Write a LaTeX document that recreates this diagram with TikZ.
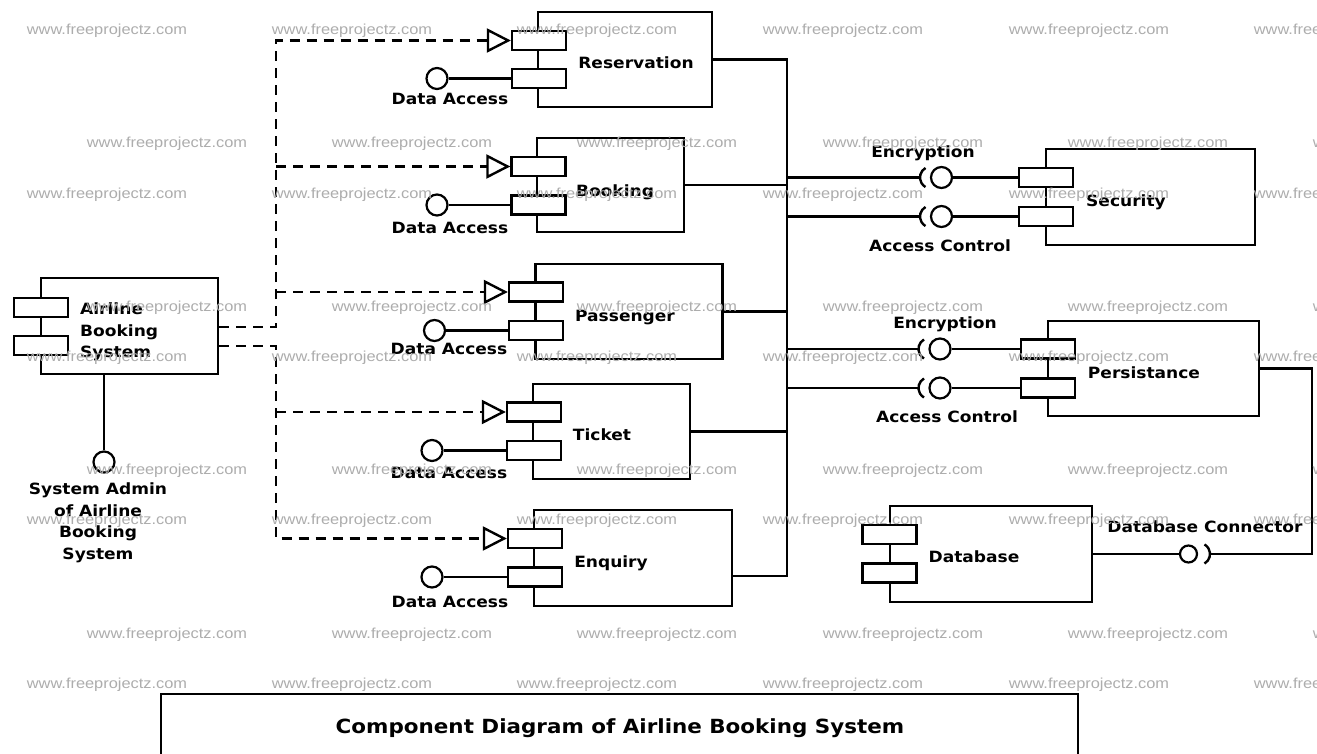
\documentclass[tikz,border=0pt]{standalone}
\usepackage{fontspec}
\newfontfamily\labfont[FakeStretch=1.1]{DejaVu Sans}
\newfontfamily\wmfont[FakeStretch=1.13]{Liberation Sans}
\usetikzlibrary{arrows.meta,calc}
\begin{document}
\begin{tikzpicture}[x=1pt,y=-1pt,
  ln/.style={line width=2.4pt},
  body/.style={draw, line width=2.4pt, inner sep=0pt},
  port/.style={draw, fill=white, line width=2.4pt, minimum width=54pt, minimum height=19pt, inner sep=0pt},
  ball/.style={circle, draw, fill=white, line width=2.2pt, minimum size=21pt, inner sep=0pt},
  lab/.style={font=\labfont\bfseries\fontsize{15.5}{21.5}\selectfont, inner sep=0pt},
  ttl/.style={font=\labfont\bfseries\fontsize{19.5}{22}\selectfont, inner sep=0pt},
  dep/.style={line width=2.4pt, dash pattern=on 10pt off 7pt, -{Triangle[open, length=24pt, width=24pt, line width=2.4pt]}},
  wm/.style={font=\wmfont\fontsize{14.5}{14.5}\selectfont, text=black!32, inner sep=0pt}]
\useasboundingbox (0,0) rectangle (1317,754);
\clip (0,0) rectangle (1317,754);
\fill[white] (0,0) rectangle (1317,754);

% ---------- components ----------
\node[body, minimum width=174pt, minimum height=95pt] (res) at (625,59.5) {};
\node[port] (resP1) at (539,40.5) {};
\node[port] (resP2) at (539,78.5) {};
\node[lab, anchor=base] (resL) at (636,68.5) {Reservation};

\node[body, minimum width=147pt, minimum height=94pt] (book) at (610.5,185) {};
\node[port] (bookP1) at (538.5,166.5) {};
\node[port] (bookP2) at (538.5,205) {};
\node[lab, anchor=base] (bookL) at (615,196.5) {Booking};

\node[body, minimum width=187pt, minimum height=95pt] (pas) at (629,311.5) {};
\node[port] (pasP1) at (536,292) {};
\node[port] (pasP2) at (536,330.5) {};
\node[lab, anchor=base] (pasL) at (625,321.5) {Passenger};

\node[body, minimum width=157pt, minimum height=95pt] (tik) at (611.5,431.5) {};
\node[port] (tikP1) at (534,412) {};
\node[port] (tikP2) at (534,450.5) {};
\node[lab, anchor=base] (tikL) at (602,440.5) {Ticket};

\node[body, minimum width=198pt, minimum height=96pt] (enq) at (633,558) {};
\node[port] (enqP1) at (535,538.5) {};
\node[port] (enqP2) at (535,577) {};
\node[lab, anchor=base] (enqL) at (611,567.5) {Enquiry};

\node[body, minimum width=209pt, minimum height=96pt] (sec) at (1150.5,197) {};
\node[port] (secP1) at (1046,177.5) {};
\node[port] (secP2) at (1046,216.5) {};
\node[lab, anchor=base] (secL) at (1126,207) {Security};

\node[body, minimum width=211pt, minimum height=95pt] (per) at (1153.5,368.5) {};
\node[port] (perP1) at (1048,349) {};
\node[port] (perP2) at (1048,388) {};
\node[lab, anchor=base] (perL) at (1144,378) {Persistance};

\node[body, minimum width=202pt, minimum height=96pt] (db) at (991,554) {};
\node[port] (dbP1) at (889.5,534.5) {};
\node[port] (dbP2) at (889.5,573) {};
\node[lab, anchor=base] (dbL) at (974,562.5) {Database};

\node[body, minimum width=177pt, minimum height=96pt] (air) at (129.5,326) {};
\node[port] (airP1) at (41,307.5) {};
\node[port] (airP2) at (41,345.5) {};
\node[lab, anchor=west, align=left] (airL) at (80,332) {Airline\\Booking\\System};

% ---------- admin interface ----------
\node[ball] (admB) at (104,462) {};
\draw[ln] (admB) -- (admB |- air.south);
\node[lab, align=center] (admL) at (98,523) {System Admin\\of Airline\\Booking\\System};

% ---------- data access lollipops ----------
\node[ball] (resB) at (437,78.5) {};
\draw[ln] (resB) -- (resP2);
\node[lab, anchor=base] (resDA) at (450,104.5) {Data Access};
\node[ball] (bookB) at (437,205) {};
\draw[ln] (bookB) -- (bookP2);
\node[lab, anchor=base] (bookDA) at (450,233.5) {Data Access};
\node[ball] (pasB) at (434.5,330.5) {};
\draw[ln] (pasB) -- (pasP2);
\node[lab, anchor=base] (pasDA) at (449,354.5) {Data Access};
\node[ball] (tikB) at (432,450.5) {};
\draw[ln] (tikB) -- (tikP2);
\node[lab, anchor=base] (tikDA) at (449,478.5) {Data Access};
\node[ball] (enqB) at (432,577) {};
\draw[ln] (enqB) -- (enqP2);
\node[lab, anchor=base] (enqDA) at (450,607.5) {Data Access};

% ---------- dependencies ----------
\draw[dep] ($(air.east)+(0,1)$) -- ++(57,0) coordinate (jU) -- (jU |- resP1.west) -- (resP1.west);
\draw[dep] (jU |- bookP1.west) -- (bookP1.west);
\draw[dep] (jU |- pasP1.west) -- (pasP1.west);
\draw[dep] ($(air.east)+(0,20)$) -- ++(57,0) coordinate (jL) -- (jL |- enqP1.west) -- (enqP1.west);
\draw[dep] (jL |- tikP1.west) -- (tikP1.west);

% ---------- bus ----------
\coordinate (bus) at (787,0);
\coordinate (enqOut) at ($(enq.east)+(0,18)$);
\draw[ln] (res.east) -- (res.east -| bus) -- (bus |- enqOut) -- (enqOut);
\draw[ln] (book.east) -- (book.east -| bus);
\draw[ln] (pas.east) -- (pas.east -| bus);
\draw[ln] (tik.east) -- (tik.east -| bus);

% ---------- ball and socket: security ----------
\node[ball] (secB1) at (941.5,177.5) {};
\coordinate (secS1) at (931,177.5);
\draw[ln] (secS1) ++(120:11pt) arc[start angle=120, end angle=240, radius=11pt];
\draw[ln] (secS1 -| bus) -- ($(secS1)+(-11,0)$);
\draw[ln] (secB1) -- (secB1 -| secP1.west);
\node[lab, anchor=base] (secEnc) at (923,157.5) {Encryption};

\node[ball] (secB2) at (941.5,216.5) {};
\coordinate (secS2) at (931,216.5);
\draw[ln] (secS2) ++(120:11pt) arc[start angle=120, end angle=240, radius=11pt];
\draw[ln] (secS2 -| bus) -- ($(secS2)+(-11,0)$);
\draw[ln] (secB2) -- (secB2 -| secP2.west);
\node[lab, anchor=base] (secAC) at (940,251.5) {Access Control};

% ---------- ball and socket: persistance ----------
\node[ball] (perB1) at (940,349) {};
\coordinate (perS1) at (929.5,349);
\draw[ln] (perS1) ++(120:11pt) arc[start angle=120, end angle=240, radius=11pt];
\draw[ln] (perS1 -| bus) -- ($(perS1)+(-11,0)$);
\draw[ln] (perB1) -- (perB1 -| perP1.west);
\node[lab, anchor=base] (perEnc) at (945,328.5) {Encryption};

\node[ball] (perB2) at (940,388) {};
\coordinate (perS2) at (929.5,388);
\draw[ln] (perS2) ++(120:11pt) arc[start angle=120, end angle=240, radius=11pt];
\draw[ln] (perS2 -| bus) -- ($(perS2)+(-11,0)$);
\draw[ln] (perB2) -- (perB2 -| perP2.west);
\node[lab, anchor=base] (perAC) at (947,422.5) {Access Control};

% ---------- database connector ----------
\node[ball, minimum size=17pt] (dbB) at (1188.5,554) {};
\draw[ln] (db.east) -- (dbB);
\coordinate (dbS) at (1199,554);
\draw[ln] (dbS) ++(-60:11pt) arc[start angle=-60, end angle=60, radius=11pt];
\coordinate (conR) at (1312,0);
\draw[ln] ($(dbS)+(11,0)$) -- (dbS -| conR) -- (conR |- per.east) -- (per.east);
\node[lab, anchor=base] (dbcL) at (1205,532.5) {Database Connector};

% ---------- title ----------
\draw[ln] (161,694) rectangle (1078,775);
\node[ttl, anchor=base] (title) at (620,733) {Component Diagram of Airline Booking System};

% ---------- watermark ----------
\foreach \yy in {31,194.5,358,521,684.5}{
  \foreach \xx in {107,352,597,843,1089,1334}{
    \node[wm] at (\xx,\yy) {www.freeprojectz.com};
  }
}
\foreach \yy in {144,308,471,634.5}{
  \foreach \xx in {167,412,657,903,1148,1393}{
    \node[wm] at (\xx,\yy) {www.freeprojectz.com};
  }
}
\end{tikzpicture}
\end{document}
